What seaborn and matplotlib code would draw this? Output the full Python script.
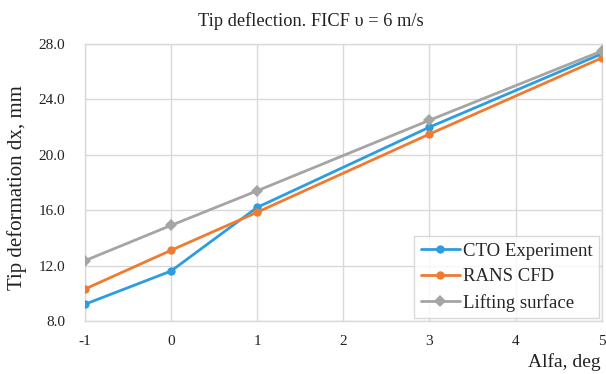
import matplotlib
matplotlib.use("Agg")
import matplotlib.pyplot as plt
import seaborn as sns
import pandas as pd

alfa = [-1, 0, 1, 3, 5]
cto_experiment = [9.2, 11.6, 16.2, 22.0, 27.3]
rans_cfd = [10.3, 13.1, 15.85, 21.5, 27.0]
lifting_surface = [12.35, 14.9, 17.4, 22.5, 27.5]
x_ticks = [-1, 0, 1, 2, 3, 4, 5]
y_ticks = [8.0, 12.0, 16.0, 20.0, 24.0, 28.0]

series_names = ["CTO Experiment", "RANS CFD", "Lifting surface"]
colors = ["#2b9de0", "#ef7b30", "#a5a5a5"]
markers = ["o", "o", "D"]

df = pd.DataFrame({
    "alfa": alfa * 3,
    "value": cto_experiment + rans_cfd + lifting_surface,
    "series": [series_names[0]] * 5 + [series_names[1]] * 5 + [series_names[2]] * 5,
})

sns.set_style("white")
plt.rcParams["font.family"] = ["Liberation Serif", "DejaVu Serif"]

fig = plt.figure(figsize=(6.06, 3.74), dpi=100)
ax = fig.add_axes([0.140, 0.142, 0.853, 0.740])

sns.lineplot(data=df, x="alfa", y="value", hue="series", style="series",
             palette=dict(zip(series_names, colors)),
             markers=dict(zip(series_names, markers)),
             dashes=False, linewidth=2, markersize=6, markeredgewidth=0,
             ax=ax, zorder=3)

ax.set_xlim(-1, 5)
ax.set_ylim(8, 28)
ax.set_xticks(x_ticks)
ax.set_xticklabels([str(t) for t in x_ticks])
ax.set_yticks(y_ticks)
ax.set_yticklabels([f"{t:.1f}" for t in y_ticks])
ax.grid(True, color="#d9d9d9", linewidth=1)
for s in ax.spines.values():
    s.set_color("#d9d9d9")
    s.set_linewidth(1)
ax.tick_params(axis="both", length=0, labelsize=11, colors="#222222")
ax.tick_params(axis="y", pad=14)
ax.tick_params(axis="x", pad=10)

ax.set_xlabel("Alfa, deg", fontsize=14, color="#222222")
ax.xaxis.set_label_coords(0.997, -0.117)
ax.xaxis.label.set_horizontalalignment("right")
ax.set_ylabel("Tip deformation dx, mm", fontsize=15, color="#222222")
ax.yaxis.set_label_coords(-0.112, 0.48)

fig.text(0.513, 0.944, "Tip deflection. FICF \u03c5 = 6 m/s", fontsize=13.2,
         color="#222222", ha="center", va="center")

leg = ax.legend(loc="lower right", bbox_to_anchor=(1.0, 0.0), frameon=True,
                fontsize=13.5, handlelength=2.1, handletextpad=0.15,
                borderaxespad=0.15, labelspacing=0.45, borderpad=0.35,
                fancybox=False, title=None)
leg.get_frame().set_edgecolor("#d0d0d0")
leg.get_frame().set_linewidth(1)

fig.savefig("out.png", dpi=100)
